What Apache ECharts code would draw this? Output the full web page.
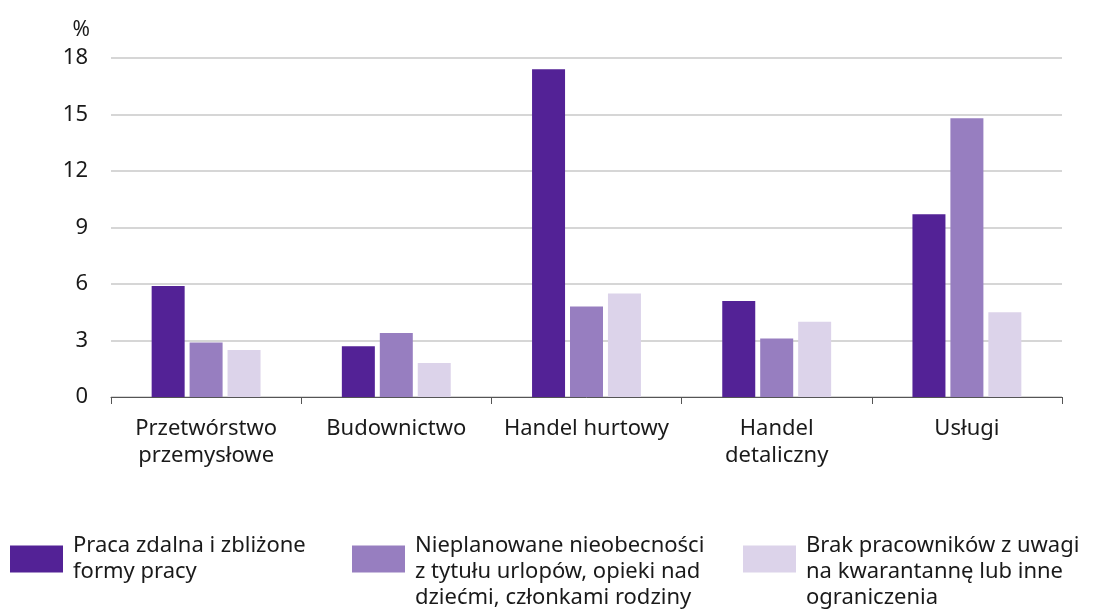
<!DOCTYPE html>
<html>
<head>
<meta charset="utf-8">
<script src="https://cdn.jsdelivr.net/npm/echarts@6/dist/echarts.min.js"></script>
<style>
  html, body { margin: 0; padding: 0; background: #fff; }
  #chart-container { width: 1093px; height: 612px; }
</style>
</head>
<body>
<div id="chart-container"></div>
<script>
// dane
const categories = ["Przetwórstwo\nprzemysłowe", "Budownictwo", "Handel hurtowy", "Handel\ndetaliczny", "Usługi"];
const seriesNames = [
    "Praca zdalna i zbliżone\nformy pracy",
    "Nieplanowane nieobecności\nz tytułu urlopów, opieki nad\ndziećmi, członkami rodziny",
    "Brak pracowników z uwagi\nna kwarantannę lub inne\nograniczenia",
];
const pracaZdalna = [5.9, 2.7, 17.4, 5.1, 9.7];
const nieobecnosci = [2.9, 3.4, 4.8, 3.1, 14.8];
const brakPracownikow = [2.5, 1.8, 5.5, 4.0, 4.5];
const yTicks = { min: 0, max: 18, interval: 3 };

const colors = ["#532296", "#977ec0", "#dcd3ea"];
const font = "'Noto Sans', sans-serif";

let dom = document.getElementById("chart-container");
let myChart = echarts.init(dom, null, {
    renderer: "canvas",
    useDirtyRect: false,
});

// legenda: kazda pozycja osobno; przy 3 liniach pusta linia na gorze,
// zeby prostokat stal na wysokosci dwoch pierwszych linii
function legendItem(i, left, top, threeLines) {
    return {
        show: true,
        data: [seriesNames[i]],
        left: left,
        top: top,
        padding: 0,
        icon: "rect",
        itemWidth: 53,
        itemHeight: 27,
        selectedMode: false,
        formatter: function (name) {
            return threeLines ? "\n" + name : name;
        },
        textStyle: {
            fontFamily: font,
            fontSize: 22,
            color: "#1a1a1a",
            lineHeight: 26,
            padding: [0, 0, 0, 5],
        },
    };
}

let option = {
    animation: false,
    color: colors,
    textStyle: { fontFamily: font },
    grid: {
        left: 111,
        right: 31,
        top: 58,
        bottom: 215,
        containLabel: false,
    },
    legend: [
        legendItem(0, 10, 533, false),
        legendItem(1, 352, 507, true),
        legendItem(2, 743, 507, true),
    ],
    xAxis: {
        type: "category",
        data: categories,
        axisLine: { lineStyle: { color: "#555", width: 1 } },
        axisTick: { show: true, length: 7, lineStyle: { color: "#555" } },
        axisLabel: {
            interval: 0,
            margin: 18,
            fontFamily: font,
            fontSize: 22,
            color: "#1a1a1a",
            lineHeight: 27,
        },
    },
    yAxis: {
        type: "value",
        min: yTicks.min,
        max: yTicks.max,
        interval: yTicks.interval,
        name: "%",
        nameLocation: "end",
        nameGap: 17,
        nameTextStyle: {
            fontFamily: font,
            fontSize: 21,
            color: "#1a1a1a",
            align: "right",
            padding: [0, 21, 0, 0],
        },
        axisLine: { show: false },
        axisTick: { show: false },
        splitLine: { lineStyle: { color: "#c8c8c8", width: 1.5 } },
        axisLabel: {
            margin: 23,
            fontFamily: font,
            fontSize: 22,
            color: "#1a1a1a",
        },
    },
    series: [
        { name: seriesNames[0], type: "bar", data: pracaZdalna, barWidth: 33, barGap: "15%" },
        { name: seriesNames[1], type: "bar", data: nieobecnosci, barWidth: 33, barGap: "15%" },
        { name: seriesNames[2], type: "bar", data: brakPracownikow, barWidth: 33, barGap: "15%" },
    ],
};

if (option && typeof option === "object") {
    myChart.setOption(option);
}

window.addEventListener("resize", myChart.resize);
</script>
</body>
</html>
